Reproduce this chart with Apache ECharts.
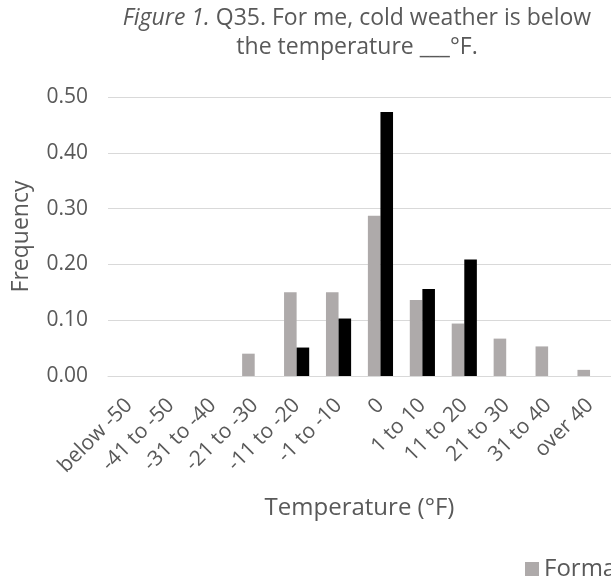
<!DOCTYPE html>
<html>
<head>
<meta charset="utf-8">
<script src="https://cdn.jsdelivr.net/npm/echarts@6/dist/echarts.min.js"></script>
<style>html,body{margin:0;padding:0;background:#fff;overflow:hidden;}#c{width:611px;height:581px;}</style>
</head>
<body>
<div id="c"></div>
<script>
const categories = ['below -50','-41 to -50','-31 to -40','-21 to -30','-11 to -20','-1 to -10','0','1 to 10','11 to 20','21 to 30','31 to 40','over 40'];
const formalValues = [0, 0, 0, 0.04, 0.15, 0.15, 0.287, 0.136, 0.094, 0.067, 0.053, 0.011];
const secondValues = [0, 0, 0, 0, 0.051, 0.103, 0.473, 0.156, 0.209, 0, 0, 0];
const yTicks = [0, 0.1, 0.2, 0.3, 0.4, 0.5];

const FONT = 'Open Sans';
const TXT = '#595959';
const chart = echarts.init(document.getElementById('c'));
chart.setOption({
  animation: false,
  backgroundColor: '#fff',
  title: {
    text: '{i|Figure 1.} Q35. For me, cold weather is below\nthe temperature ___°F.',
    left: 352, top: -1, textAlign: 'center',
    textStyle: {
      fontFamily: FONT, fontSize: 23, fontWeight: 'normal', color: TXT, lineHeight: 29,
      rich: { i: { fontFamily: FONT, fontSize: 23, fontStyle: 'italic', color: TXT, lineHeight: 29 } }
    }
  },
  legend: {
    left: 520, top: 552, icon: 'rect', itemWidth: 14, itemHeight: 14, itemGap: 20,
    textStyle: { fontFamily: FONT, fontSize: 24, color: TXT }
  },
  grid: { left: 108, right: -5, top: 97, bottom: 205, containLabel: false },
  xAxis: {
    type: 'category', data: categories,
    name: 'Temperature (°F)', nameLocation: 'middle', nameGap: 120,
    nameTextStyle: { fontFamily: FONT, fontSize: 24, color: TXT },
    axisLine: { lineStyle: { color: '#D9D9D9', width: 1 } },
    axisTick: { show: false },
    axisLabel: { rotate: 45, margin: 26, interval: 0, fontFamily: FONT, fontSize: 21, color: TXT }
  },
  yAxis: {
    type: 'value', min: yTicks[0], max: yTicks[yTicks.length - 1], interval: 0.1,
    name: 'Frequency', nameLocation: 'middle', nameGap: 75, nameRotate: 90,
    nameTextStyle: { fontFamily: FONT, fontSize: 23, color: TXT },
    axisLine: { show: false }, axisTick: { show: false },
    splitLine: { lineStyle: { color: '#D9D9D9', width: 1 } },
    axisLabel: { margin: 20, fontFamily: FONT, fontSize: 21, color: TXT, formatter: v => v.toFixed(2) }
  },
  series: [
    { name: 'Formal', type: 'bar', data: formalValues, barGap: '0%', barCategoryGap: '40%', itemStyle: { color: '#AEAAAA' } },
    { name: 'Informal', type: 'bar', data: secondValues, itemStyle: { color: '#000000' } }
  ]
});
</script>
</body>
</html>
